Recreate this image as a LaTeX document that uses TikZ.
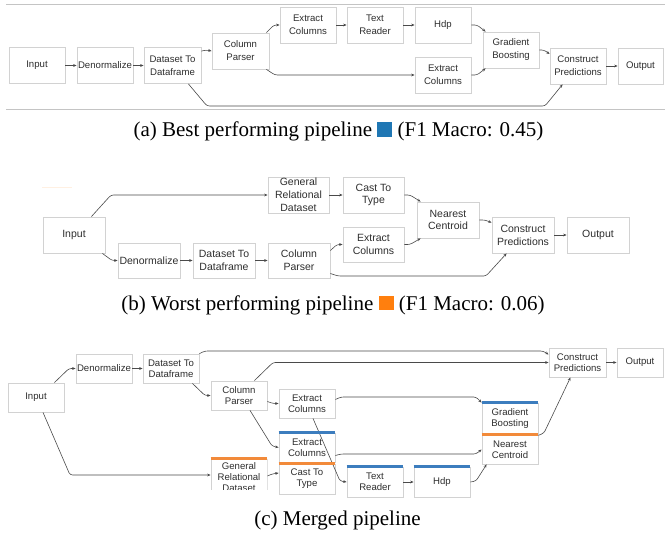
\documentclass[tikz,border=0pt]{standalone}
\usepackage{fontspec}
\setmainfont{Liberation Serif}
\newfontfamily\boxsans{Liberation Sans}
\usetikzlibrary{arrows.meta,calc}
\definecolor{tabblue}{HTML}{1F77B4}
\definecolor{taborange}{HTML}{FF7F0E}
\definecolor{barblue}{HTML}{3C7DBE}
\definecolor{barorange}{HTML}{F28A3A}
\definecolor{boxgray}{HTML}{D2D2D2}
\definecolor{txtgray}{HTML}{2E2E2E}
\definecolor{lngray}{HTML}{4A4A4A}
\definecolor{sepgray}{HTML}{C4C4C4}
\tikzset{
  box/.style={draw=boxgray, line width=0.8pt, fill=white, text=txtgray, align=center, inner sep=0pt},
  boxa/.style={box, minimum width=56pt, minimum height=36pt, font=\boxsans\fontsize{9.6}{13}\selectfont},
  boxb/.style={box, minimum width=62pt, minimum height=36pt, font=\boxsans\fontsize{10.5}{12.8}\selectfont},
  boxc/.style={box, minimum width=56pt, minimum height=29pt, font=\boxsans\fontsize{9.6}{11}\selectfont},
  conn/.style={draw=lngray, line width=0.6pt, rounded corners=2.5pt, -{Stealth[length=3.4pt,width=2.8pt]}},
  bluebar/.style={draw=barblue, line width=2.8pt},
  orangebar/.style={draw=barorange, line width=2.8pt},
  sepline/.style={draw=sepgray, line width=0.8pt},
  captext/.style={font=\fontsize{21}{25}\selectfont, text=black, inner sep=0pt, anchor=base}
}
\begin{document}
\begin{tikzpicture}[x=1pt,y=-1pt]
\useasboundingbox (0,0) rectangle (665,535);
\fill[white] (0,0) rectangle (665,535);

% ---------------- (a) ----------------
\draw[sepline] (6,4) -- (665,4);
\draw[sepline] (6,109) -- (665,109);
\node[boxa] (a1) at (37,65.5) {Input};
\node[boxa] (a2) at (105,65.5) {Denormalize};
\node[boxa, minimum width=57pt] (a3) at (172.5,65.5) {Dataset To\\Dataframe};
\node[boxa, minimum width=57pt] (a4) at (240.5,51) {Column\\Parser};
\node[boxa] (a5) at (308,25) {Extract\\Columns};
\node[boxa] (a7) at (375,25) {Text\\Reader};
\node[boxa] (a8) at (443,25) {Hdp};
\node[boxa] (a6) at (443,75) {Extract\\Columns};
\node[boxa] (a9) at (511,50) {Gradient\\Boosting};
\node[boxa] (a11) at (578,66) {Construct\\Predictions};
\node[boxa, minimum width=45pt] (a12) at (640.5,66) {Output};

\draw[conn] (a1) -- (a2);
\draw[conn] (a2) -- (a3);
\draw[conn] ($(a3.north east)+(0,4)$) -- (206,50) -- (a4.west);
\draw[conn] ($(a4.north east)+(-3,0)$) -- (274,25) -- (a5.west);
\draw[conn] ($(a4.south east)+(-3,0)$) -- (275,75) -- (a6.west);
\draw[conn] ($(a3.south east)+(-13,0)$) -- (207,106) -- (545,106) -- ($(a11.south west)+(13,0)$);
\draw[conn] (a5) -- (a7);
\draw[conn] (a7) -- (a8);
\draw[conn] (a8.east) -- (477,25) -- ($(a9.north west)+(3,0)$);
\draw[conn] (a6.east) -- (477,75) -- ($(a9.south west)+(3,0)$);
\draw[conn] (a9.east) -- (544,50) -- ($(a11.west)+(0,-12)$);
\draw[conn] (a11) -- (a12);

\node[captext] (capa) at (338.5,137) {(a) Best performing pipeline \textcolor{tabblue}{\rule{15pt}{15pt}} (F1 Macro: 0.45)};

% ---------------- (b) ----------------
\draw[draw=taborange!12, line width=1pt] (42,187) -- (72,187);
\node[boxb] (b1) at (74,235) {Input};
\node[boxb, minimum width=61pt] (b2) at (298.5,195) {General\\Relational\\Dataset};
\node[boxb, minimum height=35pt] (b3) at (149,260.5) {Denormalize};
\node[boxb, minimum height=35pt] (b4) at (224,260.5) {Dataset To\\Dataframe};
\node[boxb, minimum height=35pt] (b5) at (299,260.5) {Column\\Parser};
\node[boxb, minimum width=61pt] (b6) at (373.5,195) {Cast To\\Type};
\node[boxb, minimum width=61pt, minimum height=35pt] (b7) at (373.5,244.5) {Extract\\Columns};
\node[boxb] (b8) at (448,220) {Nearest\\Centroid};
\node[boxb] (b9) at (523,235) {Construct\\Predictions};
\node[boxb] (b10) at (598,235) {Output};

\draw[conn] ($(b1.north east)+(-14,0)$) -- (111,195) -- (b2.west);
\draw[conn] ($(b1.south east)+(-3,0)$) -- (112,260.5) -- (b3.west);
\draw[conn] (b3) -- (b4);
\draw[conn] (b4) -- (b5);
\draw[conn] (b2) -- (b6);
\draw[conn] ($(b5.east)+(0,-10)$) -- (337,244.5) -- (b7.west);
\draw[conn] ($(b5.east)+(0,13)$) -- (338,276) -- (486,276) -- ($(b9.south west)+(15,0)$);
\draw[conn] (b6.east) -- (410,195) -- ($(b8.north west)+(4,0)$);
\draw[conn] (b7.east) -- (410,244.5) -- ($(b8.south west)+(4,0)$);
\draw[conn] (b8.east) -- (485,220) -- ($(b9.north west)+(0,6)$);
\draw[conn] (b9) -- (b10);

\node[captext] (capb) at (333,310) {(b) Worst performing pipeline \textcolor{taborange}{\rule{15pt}{14pt}} (F1 Macro: 0.06)};

% ---------------- (c) ----------------
\node[boxc] (c1) at (36,397.5) {Input};
\node[boxc] (c2) at (104,368.5) {Denormalize};
\node[boxc] (c3) at (171,368.5) {Dataset To\\Dataframe};
\node[boxc] (c4) at (239,395.5) {Column\\Parser};
\node[boxc] (c5) at (307,403.5) {Extract\\Columns};
\node[boxc] (c6) at (307,447.5) {Extract\\Columns};
\node[boxc, minimum height=30pt] (c7) at (307,479) {Cast To\\Type};
\begin{scope}
\clip (210.5,457) rectangle (267.5,489.4);
\node[boxc, minimum height=36pt] (c8) at (239,477) {General\\Relational\\Dataset};
\end{scope}
\node[boxc, minimum height=30pt] (c9) at (375,482) {Text\\Reader};
\node[boxc, minimum height=30pt] (c10) at (442,482) {Hdp};
\node[boxc, minimum height=32pt] (c11) at (510,419) {Gradient\\Boosting};
\node[boxc] (c12) at (510,449.5) {Nearest\\Centroid};
\node[boxc, minimum width=57pt] (c13) at (577.5,362.5) {Construct\\Predictions};
\node[boxc, minimum width=46pt] (c14) at (640,362.5) {Output};

\draw[conn] ($(c1.north east)+(-10,0)$) -- (69,368.5) -- (c2.west);
\draw[conn] (c2) -- (c3);
\draw[conn] (c3.north east) -- (205,351) -- (543,351) -- ($(c13.west)+(0,-8)$);
\draw[conn] ($(c4.north east)+(-13,0)$) -- (273,362.5) -- (c13.west);
\draw[conn] ($(c3.south east)+(-7,0)$) -- (205,395.5) -- (c4.west);
\draw[conn] ($(c4.east)+(0,6)$) -- (273,403.5) -- (c5.west);
\draw[conn] ($(c4.south)+(11,0)$) -- (272,446) -- (c6.west);
\draw[conn] ($(c1.south)+(7,0)$) -- (70,475) -- ($(c8.west)+(0,-2)$);
\draw[conn] ($(c8.east)+(0,-1)$) -- (272,474) -- ($(c7.west)+(0,-6)$);
\draw[conn] ($(c5.south)+(6,0)$) -- (340,481) -- (c9.west);
\draw[conn] ($(c5.east)+(0,-4)$) -- (341,397) -- (476,397) -- (c11.north west);
\draw[conn] ($(c6.east)+(0,8)$) -- (341,454) -- (476,454) -- (c12.west);
\draw[conn] (c9) -- (c10);
\draw[conn] (c10.east) -- (476,481) -- ($(c12.south west)+(5,0)$);
\draw[conn] (c11.south east) -- (544,433) -- ($(c13.south)+(-7,0)$);
\draw[conn] (c13) -- (c14);

\draw[bluebar] (c6.north west) -- (c6.north east);
\draw[orangebar] (c7.north west) -- (c7.north east);
\draw[orangebar] (c8.north west) -- (c8.north east);
\draw[bluebar] (c9.north west) -- (c9.north east);
\draw[bluebar] (c10.north west) -- (c10.north east);
\draw[bluebar] (c11.north west) -- (c11.north east);
\draw[orangebar] (c12.north west) -- (c12.north east);

\node[captext] (capc) at (337.5,525) {(c) Merged pipeline};
\end{tikzpicture}
\end{document}
